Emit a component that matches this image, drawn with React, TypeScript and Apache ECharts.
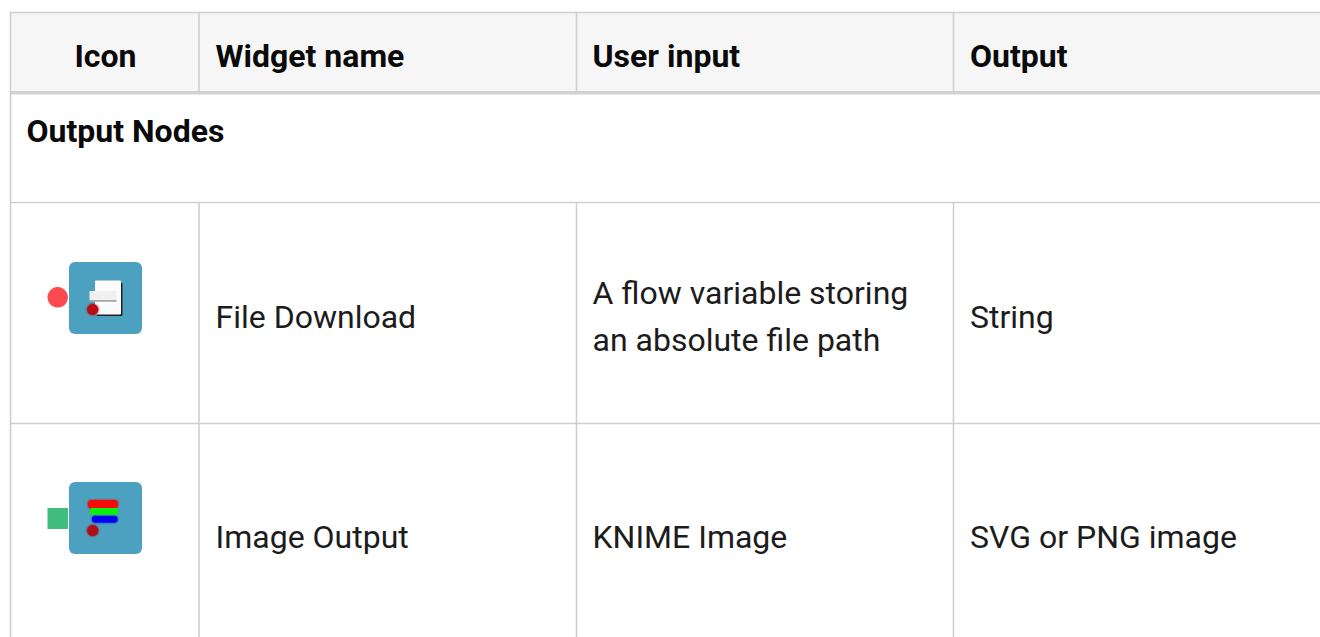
import React, { useEffect, useRef } from "react";
import * as echarts from "echarts";

const headerLabels = ["Icon", "Widget name", "User input", "Output"];
const sectionLabel = "Output Nodes";
const widgetNames = ["File Download", "Image Output"];
const userInputs = ["A flow variable storing\nan absolute file path", "KNIME Image"];
const outputs = ["String", "SVG or PNG image"];

const W = 1320;
const H = 637;
const FONT = "Roboto";
const columnLines = [199, 576.5, 953.5];
const textX = [215.5, 592.5, 970];
const rowCenters = [316.5, 537];
const LINE = "#cfcfcf";
const INK = "#1c1c1c";

function hline(y: number, x1: number, x2: number, width = 1.6) {
  return { type: "line", shape: { x1, y1: y, x2, y2: y }, style: { stroke: LINE, lineWidth: width }, silent: true };
}
function vline(x: number, y1: number, y2: number, width = 1.6) {
  return { type: "line", shape: { x1: x, y1, x2: x, y2 }, style: { stroke: LINE, lineWidth: width }, silent: true };
}
function label(text: string, x: number, y: number, bold: boolean, align = "left") {
  return {
    type: "text",
    x,
    y,
    style: {
      text,
      x: 0,
      y: 0,
      fill: bold ? "#0a0a0a" : INK,
      font: `${bold ? 700 : 400} 32px ${FONT}`,
      fontFamily: FONT,
      fontSize: 32,
      fontWeight: bold ? 700 : 400,
      lineHeight: 47,
      align,
      verticalAlign: "middle",
    },
  };
}
function rect(x: number, y: number, width: number, height: number, fill: string, r = 0, blur = 0) {
  return {
    type: "rect",
    shape: { x, y, width, height, r },
    style: { fill, shadowBlur: blur, shadowColor: fill },
  };
}
function circle(cx: number, cy: number, r: number, fill: string, blur = 0) {
  return { type: "circle", shape: { cx, cy, r }, style: { fill, shadowBlur: blur, shadowColor: fill } };
}

function fileIcon() {
  return [
    circle(57.7, 297.3, 10.2, "#fd4a4e"),
    rect(69, 262, 73, 72, "#4ca0c0", 6),
    rect(96.5, 283, 26, 33, "#222222", 1),
    rect(95, 280.5, 26, 34, "#fbfbfb", 1),
    rect(89.5, 291, 27, 9, "#f0f0f0"),
    rect(89.5, 300, 27, 1.8, "#a8a8a8"),
    circle(92.7, 309.5, 5.6, "#b90d12", 2),
  ];
}
function imageIcon() {
  return [
    rect(47.5, 508, 20.5, 21, "#41bd7d"),
    rect(69, 482, 73, 72, "#4ca0c0", 6),
    rect(88, 500, 30, 8.5, "#f50a0a", 3.5, 2),
    rect(90, 508, 28, 7, "#0af00a", 2.5, 1),
    rect(92, 516, 25.5, 6.5, "#0000f5", 3, 2),
    circle(92.7, 530.5, 5.6, "#b10f14", 2),
  ];
}

export default function App() {
  const ref = useRef<HTMLDivElement>(null);
  useEffect(() => {
    document.body.style.margin = "0";
    const chart = echarts.init(ref.current!, undefined, { renderer: "svg" });
    const elements: any[] = [
      rect(11, 13, W - 11, 79, "#f6f6f6"),
      rect(11, 91, W - 11, 3.5, "#d2d2d2"),
      hline(12.5, 10, W),
      vline(10.5, 12, H),
      hline(202.5, 10, W),
      hline(423.5, 10, W),
      ...columnLines.map((x) => vline(x, 12, 94)),
      ...columnLines.map((x) => vline(x, 203, H)),
      label(headerLabels[0], 105.5, 55.5, true, "center"),
      ...headerLabels.slice(1).map((t, i) => label(t, textX[i], 55.5, true)),
      label(sectionLabel, 26.5, 130.5, true),
      ...widgetNames.map((t, i) => label(t, textX[0], rowCenters[i], false)),
      ...userInputs.map((t, i) => label(t, textX[1], rowCenters[i], false)),
      ...outputs.map((t, i) => label(t, textX[2], rowCenters[i], false)),
      ...fileIcon(),
      ...imageIcon(),
    ];
    chart.setOption({ animation: false, graphic: { elements } });
    return () => chart.dispose();
  }, []);
  return <div ref={ref} style={{ position: "absolute", left: 0, top: 0, width: W, height: H, background: "#fff" }} />;
}
